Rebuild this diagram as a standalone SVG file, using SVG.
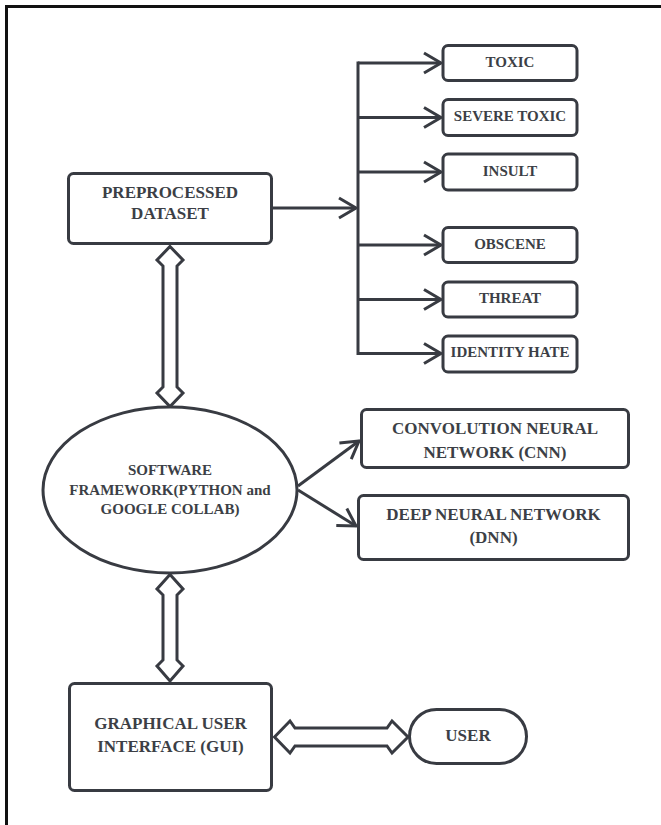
<svg xmlns="http://www.w3.org/2000/svg" width="661" height="825" viewBox="0 0 661 825">
<defs>
<style>
.box{fill:#fff;stroke:#383b42;stroke-width:3}
.ln{fill:none;stroke:#383b42;stroke-width:3}
.dbl{fill:#fff;stroke:#383b42;stroke-width:3;stroke-linejoin:miter}
.t{font-family:"Liberation Serif","Times New Roman",serif;font-weight:bold;fill:#3c3f46;text-anchor:middle}
.s15{font-size:15px}
.s17{font-size:17px}
</style>
<marker id="chev" viewBox="0 0 22 24" refX="19" refY="12" markerWidth="22" markerHeight="24" markerUnits="userSpaceOnUse" orient="auto">
<path d="M2,2 L19,12 L2,22" fill="none" stroke="#383b42" stroke-width="3"/>
</marker>
</defs>
<rect width="661" height="825" fill="#fff"/>
<path d="M6.5,825 L6.5,6.5 L661,6.5" fill="none" stroke="#111" stroke-width="3"/>

<g id="connectors">
<line class="ln" x1="358" y1="61.5" x2="358" y2="355"/>
<line class="ln" x1="273" y1="208" x2="356" y2="208" marker-end="url(#chev)"/>
<line class="ln" x1="358" y1="63" x2="441" y2="63" marker-end="url(#chev)"/>
<line class="ln" x1="358" y1="117.5" x2="441" y2="117.5" marker-end="url(#chev)"/>
<line class="ln" x1="358" y1="172" x2="441" y2="172" marker-end="url(#chev)"/>
<line class="ln" x1="358" y1="245" x2="441" y2="245" marker-end="url(#chev)"/>
<line class="ln" x1="358" y1="299.5" x2="441" y2="299.5" marker-end="url(#chev)"/>
<line class="ln" x1="358" y1="353.5" x2="441" y2="353.5" marker-end="url(#chev)"/>
<line class="ln" x1="298" y1="486" x2="359" y2="441" marker-end="url(#chev)"/>
<line class="ln" x1="298" y1="490" x2="356" y2="526" marker-end="url(#chev)"/>
<polygon class="dbl" points="170,246.5 183,260 177,266 177,387 183,393 170,406.5 157,393 163,387 163,266 157,260"/>
<polygon class="dbl" points="170,574.5 183,589 177,595 177,660 183,666 170,681 157,666 163,660 163,595 157,589"/>
<polygon class="dbl" points="274.5,737 290,721 295,728 387,728 392,721 408,737 392,753 387,746 295,746 290,753"/>
</g>

<g id="preprocessed">
<rect class="box" x="68.5" y="173.5" width="203" height="70" rx="5"/>
<text class="t s17" x="170" y="198">PREPROCESSED</text>
<text class="t s17" x="170" y="219">DATASET</text>
</g>

<g id="toxic">
<rect class="box" x="443" y="45.5" width="134" height="35" rx="5"/>
<text class="t s15" x="510" y="66.5">TOXIC</text>
</g>
<g id="severe-toxic">
<rect class="box" x="443" y="99.5" width="134" height="36" rx="5"/>
<text class="t s15" x="510" y="121">SEVERE TOXIC</text>
</g>
<g id="insult">
<rect class="box" x="443" y="154" width="134" height="36" rx="5"/>
<text class="t s15" x="510" y="175.5">INSULT</text>
</g>
<g id="obscene">
<rect class="box" x="443" y="227.5" width="134" height="35" rx="5"/>
<text class="t s15" x="510" y="248.5">OBSCENE</text>
</g>
<g id="threat">
<rect class="box" x="443" y="282" width="134" height="35" rx="5"/>
<text class="t s15" x="510" y="303">THREAT</text>
</g>
<g id="identity-hate">
<rect class="box" x="443" y="336" width="134" height="36" rx="5"/>
<text class="t s15" x="510" y="357">IDENTITY HATE</text>
</g>

<g id="framework">
<ellipse class="box" cx="170" cy="490" rx="127" ry="83"/>
<text class="t s15" x="170" y="475">SOFTWARE</text>
<text class="t s15" x="170" y="494.5">FRAMEWORK(PYTHON and</text>
<text class="t s15" x="170" y="514">GOOGLE COLLAB)</text>
</g>

<g id="cnn">
<rect class="box" x="361.5" y="409.5" width="267" height="58" rx="5"/>
<text class="t s17" x="495" y="434">CONVOLUTION NEURAL</text>
<text class="t s17" x="495" y="458">NETWORK (CNN)</text>
</g>

<g id="dnn">
<rect class="box" x="358.5" y="495.5" width="270" height="64" rx="5"/>
<text class="t s17" x="493.5" y="520">DEEP NEURAL NETWORK</text>
<text class="t s17" x="493.5" y="543">(DNN)</text>
</g>

<g id="gui">
<rect class="box" x="69.5" y="683.5" width="202" height="107" rx="5"/>
<text class="t s17" x="170.5" y="729">GRAPHICAL USER</text>
<text class="t s17" x="170.5" y="752">INTERFACE (GUI)</text>
</g>

<g id="user">
<rect class="box" x="409.5" y="709.5" width="117" height="54" rx="27"/>
<text class="t s17" x="468" y="740.5">USER</text>
</g>
</svg>
